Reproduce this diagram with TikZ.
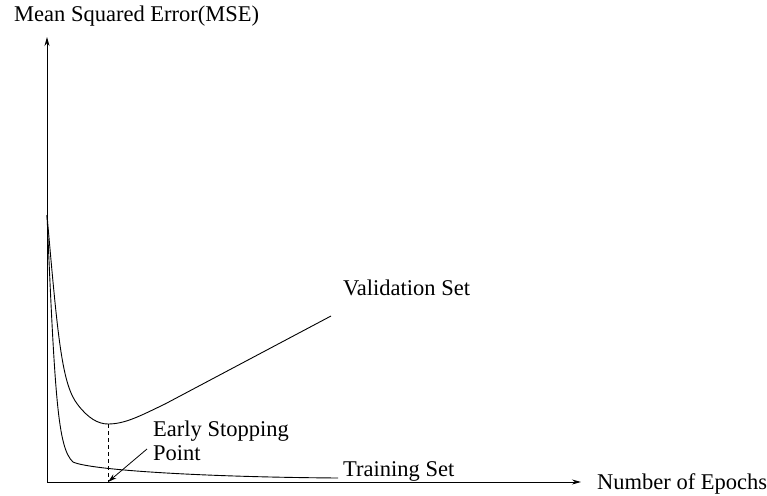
\documentclass[tikz,border=0pt]{standalone}
\usepackage{fontspec}
\setmainfont{Liberation Serif}
\usetikzlibrary{arrows.meta}
\begin{document}
\begin{tikzpicture}[x=1pt,y=-1pt,
  lbl/.style={font=\fontsize{22.5}{24}\selectfont, inner sep=0pt, anchor=base west},
  curve/.style={line width=0.9pt},
  axis/.style={line width=0.9pt, -{Stealth[length=9pt,width=5pt]}}]
\useasboundingbox (0,0) rectangle (767,495);
\coordinate (O) at (47,482);
\coordinate (ytop) at (47,37);
\coordinate (xend) at (581,482);
\coordinate (s) at (47,215);
\coordinate (vmin) at (108,424);
\coordinate (vend) at (331,316);
\coordinate (tend) at (338,478);
\coordinate (dbot) at (108,482);
\coordinate (astart) at (147,449);
\draw[axis] (O) -- (ytop);
\draw[axis] (O) -- (xend);
\node[lbl] (ylab) at (14,22) {Mean Squared Error(MSE)};
\node[lbl] (xlab) at (597,489) {Number of Epochs};
\draw[curve] (s) .. controls (58,340) and (62,385) .. (78,405)
  .. controls (88,418) and (98,424) .. (vmin)
  .. controls (125,424) and (140,416) .. (165,404) -- (vend);
\draw[curve] (s) .. controls (55,400) and (58,448) .. (73,462)
  .. controls (90,470) and (200,477) .. (tend);
\node[lbl] (vlab) at (343,295) {Validation Set};
\node[lbl] (tlab) at (343,476) {Training Set};
\draw[line width=0.8pt, dashed, dash pattern=on 4pt off 3pt] (vmin) -- (dbot);
\node[lbl, align=left, anchor=north west] (elab) at (153,421) {Early Stopping\\Point};
\draw[line width=0.8pt, -{Stealth[length=9pt,width=5pt]}] (astart) -- (dbot);
\end{tikzpicture}
\end{document}
